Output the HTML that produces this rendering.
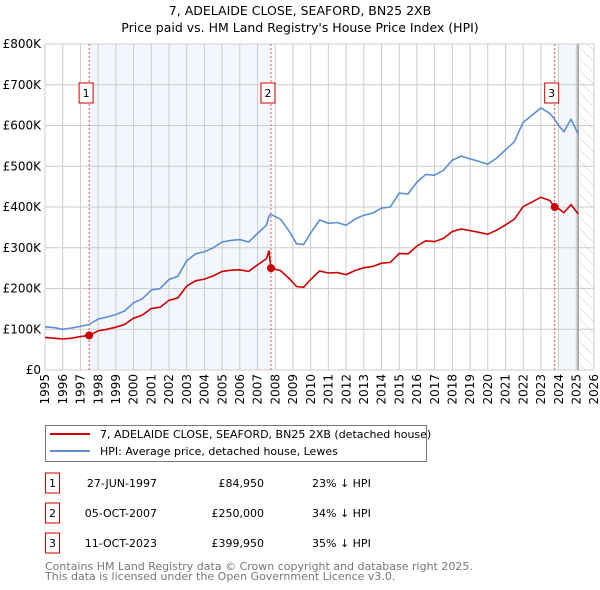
<!DOCTYPE html>
<html><head><meta charset="utf-8"><style>
body{margin:0;background:#fff;}
svg{display:block;font-family:"DejaVu Sans","Liberation Sans",sans-serif;}
</style></head><body>
<svg id="chart" width="600" height="590">
<defs><pattern id="hatch" width="8" height="8" patternUnits="userSpaceOnUse" patternTransform="rotate(-45)"><line x1="0" y1="0" x2="0" y2="8" stroke="#ccc" stroke-width="1"/></pattern></defs>
<text x="300" y="15" text-anchor="middle" font-size="12.5">7, ADELAIDE CLOSE, SEAFORD, BN25 2XB</text>
<text x="300" y="32" text-anchor="middle" font-size="12.5">Price paid vs. HM Land Registry's House Price Index (HPI)</text>
<g id="plot"></g>
<g>
<rect x="45.5" y="425.5" width="381" height="36" fill="#fff" stroke="#777"/>
<line x1="50" y1="434" x2="90" y2="434" stroke="#cc0000" stroke-width="2"/>
<text x="100" y="438" font-size="11">7, ADELAIDE CLOSE, SEAFORD, BN25 2XB (detached house)</text>
<line x1="50" y1="451" x2="90" y2="451" stroke="#5b8fd0" stroke-width="2"/>
<text x="100" y="455" font-size="11">HPI: Average price, detached house, Lewes</text>
</g>
<g id="table" font-size="11"></g>
<text x="45" y="570" font-size="11" fill="#777">Contains HM Land Registry data © Crown copyright and database right 2025.</text>
<text x="45" y="580" font-size="11" fill="#777">This data is licensed under the Open Government Licence v3.0.</text>
</svg>
<script>
const dates=[1995,1995.5,1996,1996.5,1997,1997.5,1998,1998.5,1999,1999.5,2000,2000.5,2001,2001.5,2002,2002.5,2003,2003.5,2004,2004.5,2005,2005.5,2006,2006.5,2007,2007.5,2007.65,2007.75,2008.3,2008.8,2009.2,2009.6,2010,2010.5,2011,2011.5,2012,2012.5,2013,2013.5,2014,2014.5,2015,2015.5,2016,2016.5,2017,2017.5,2018,2018.5,2019,2019.5,2020,2020.5,2021,2021.5,2022,2022.5,2023,2023.5,2023.78,2024,2024.3,2024.7,2025.1];
const hpi=[106,104,100,103,107,112,125,130,136,145,165,175,196,200,222,230,268,285,290,300,314,318,320,314,335,355,378,382,370,340,310,308,336,368,360,362,355,370,380,385,397,400,434,432,461,480,478,490,515,525,518,512,505,520,540,560,608,625,643,630,615,600,585,615,580];
const red=[80,78,76,78,82,85,96,100,105,112,127,135,151,154,171,177,206,219,223,231,242,245,246,242,258,273,293,250,244,224,205,203,222,243,238,239,234,244,251,254,262,264,286,285,304,317,315,323,340,346,342,338,333,343,356,370,401,412,424,416,400,396,386,406,383];
const saleDates=[1997.49,2007.76,2023.78];
const salePrices=[84.95,250,399.95];
const saleLabels=["27-JUN-1997","05-OCT-2007","11-OCT-2023"];
const salePriceText=["£84,950","£250,000","£399,950"];
const salePct=["23% ↓ HPI","34% ↓ HPI","35% ↓ HPI"];
const yTicks=[0,100,200,300,400,500,600,700,800];
const yTickLabels=["£0","£100K","£200K","£300K","£400K","£500K","£600K","£700K","£800K"];
const xTicks=[1995,1996,1997,1998,1999,2000,2001,2002,2003,2004,2005,2006,2007,2008,2009,2010,2011,2012,2013,2014,2015,2016,2017,2018,2019,2020,2021,2022,2023,2024,2025,2026];
const X0=45,X1=594,Y0=370,Y1=44;
const sx=v=>X0+(v-1995)/(2026-1995)*(X1-X0);
const sy=v=>Y0-v/800*(Y0-Y1);
const NS="http://www.w3.org/2000/svg";
const plot=document.getElementById('plot');
function mk(t,a,p){const e=document.createElementNS(NS,t);for(const k in a)e.setAttribute(k,a[k]);(p||plot).appendChild(e);return e;}
let s1=mk('rect',{x:sx(saleDates[0]),y:Y1,width:sx(saleDates[1])-sx(saleDates[0]),height:Y0-Y1,fill:'#f3f6fd'});


let s2=mk('rect',{x:sx(2024.1),y:Y1,width:sx(2025.1)-sx(2024.1),height:Y0-Y1,fill:'#f3f6fd'});


let hz=mk('rect',{x:sx(2025.1),y:Y1,width:X1-sx(2025.1),height:Y0-Y1,fill:'url(#hatch)'});


xTicks.forEach(t=>{let l=mk('line',{x1:sx(t),x2:sx(t),y1:Y1,y2:Y0,stroke:'#ccc','stroke-width':1});


let tx=mk('text',{x:sx(t),y:Y0+4,'font-size':12,'text-anchor':'end',transform:`rotate(-90 ${sx(t)} ${Y0+4})`,dy:'0.35em'});
tx.textContent=t;

});
yTicks.forEach((t,i)=>{let l=mk('line',{x1:X0,x2:X1,y1:sy(t),y2:sy(t),stroke:'#ccc','stroke-width':1});


let tx=mk('text',{x:X0-4,y:sy(t)+4,'font-size':12,'text-anchor':'end'});
tx.textContent=yTickLabels[i];

});
let el=mk('line',{x1:sx(2025.1),x2:sx(2025.1),y1:Y1,y2:Y0,stroke:'#999','stroke-width':1.5});


saleDates.forEach((d,i)=>{let l=mk('line',{x1:sx(d),x2:sx(d),y1:Y1,y2:Y0,stroke:'#e55','stroke-width':1,'stroke-dasharray':'2,2'});


let bx=sx(d)-10,by=83;
let r=mk('rect',{x:bx,y:by,width:14,height:20,fill:'#fff',stroke:'#c00'});


let t=mk('text',{x:bx+7,y:by+14,'font-size':11,'text-anchor':'middle'});t.textContent=i+1;

});
const path=arr=>arr.map((v,i)=>(i?'L':'M')+sx(dates[i]).toFixed(1)+','+sy(v).toFixed(1)).join('');
let hl=mk('path',{d:path(hpi),fill:'none',stroke:'#5b8fd0','stroke-width':1.6});


let rl=mk('path',{d:path(red),fill:'none',stroke:'#cc0000','stroke-width':1.6});


saleDates.forEach((d,i)=>{let c=mk('circle',{cx:sx(d),cy:sy(salePrices[i]),r:4,fill:'#cc0000'});

});
const tb=document.getElementById('table');
saleLabels.forEach((s,i)=>{const y=483+i*30;
let r=mk('rect',{x:45.5,y:y-10,width:14,height:20,fill:'#fff',stroke:'#c00'},tb);


let a=mk('text',{x:52.5,y:y+4,'text-anchor':'middle'},tb);a.textContent=i+1;


let b=mk('text',{x:157,y:y+4,'text-anchor':'end'},tb);b.textContent=s;


let c=mk('text',{x:264,y:y+4,'text-anchor':'end'},tb);c.textContent=salePriceText[i];


let d=mk('text',{x:312,y:y+4},tb);d.textContent=salePct[i];

});
</script>
</body></html>
